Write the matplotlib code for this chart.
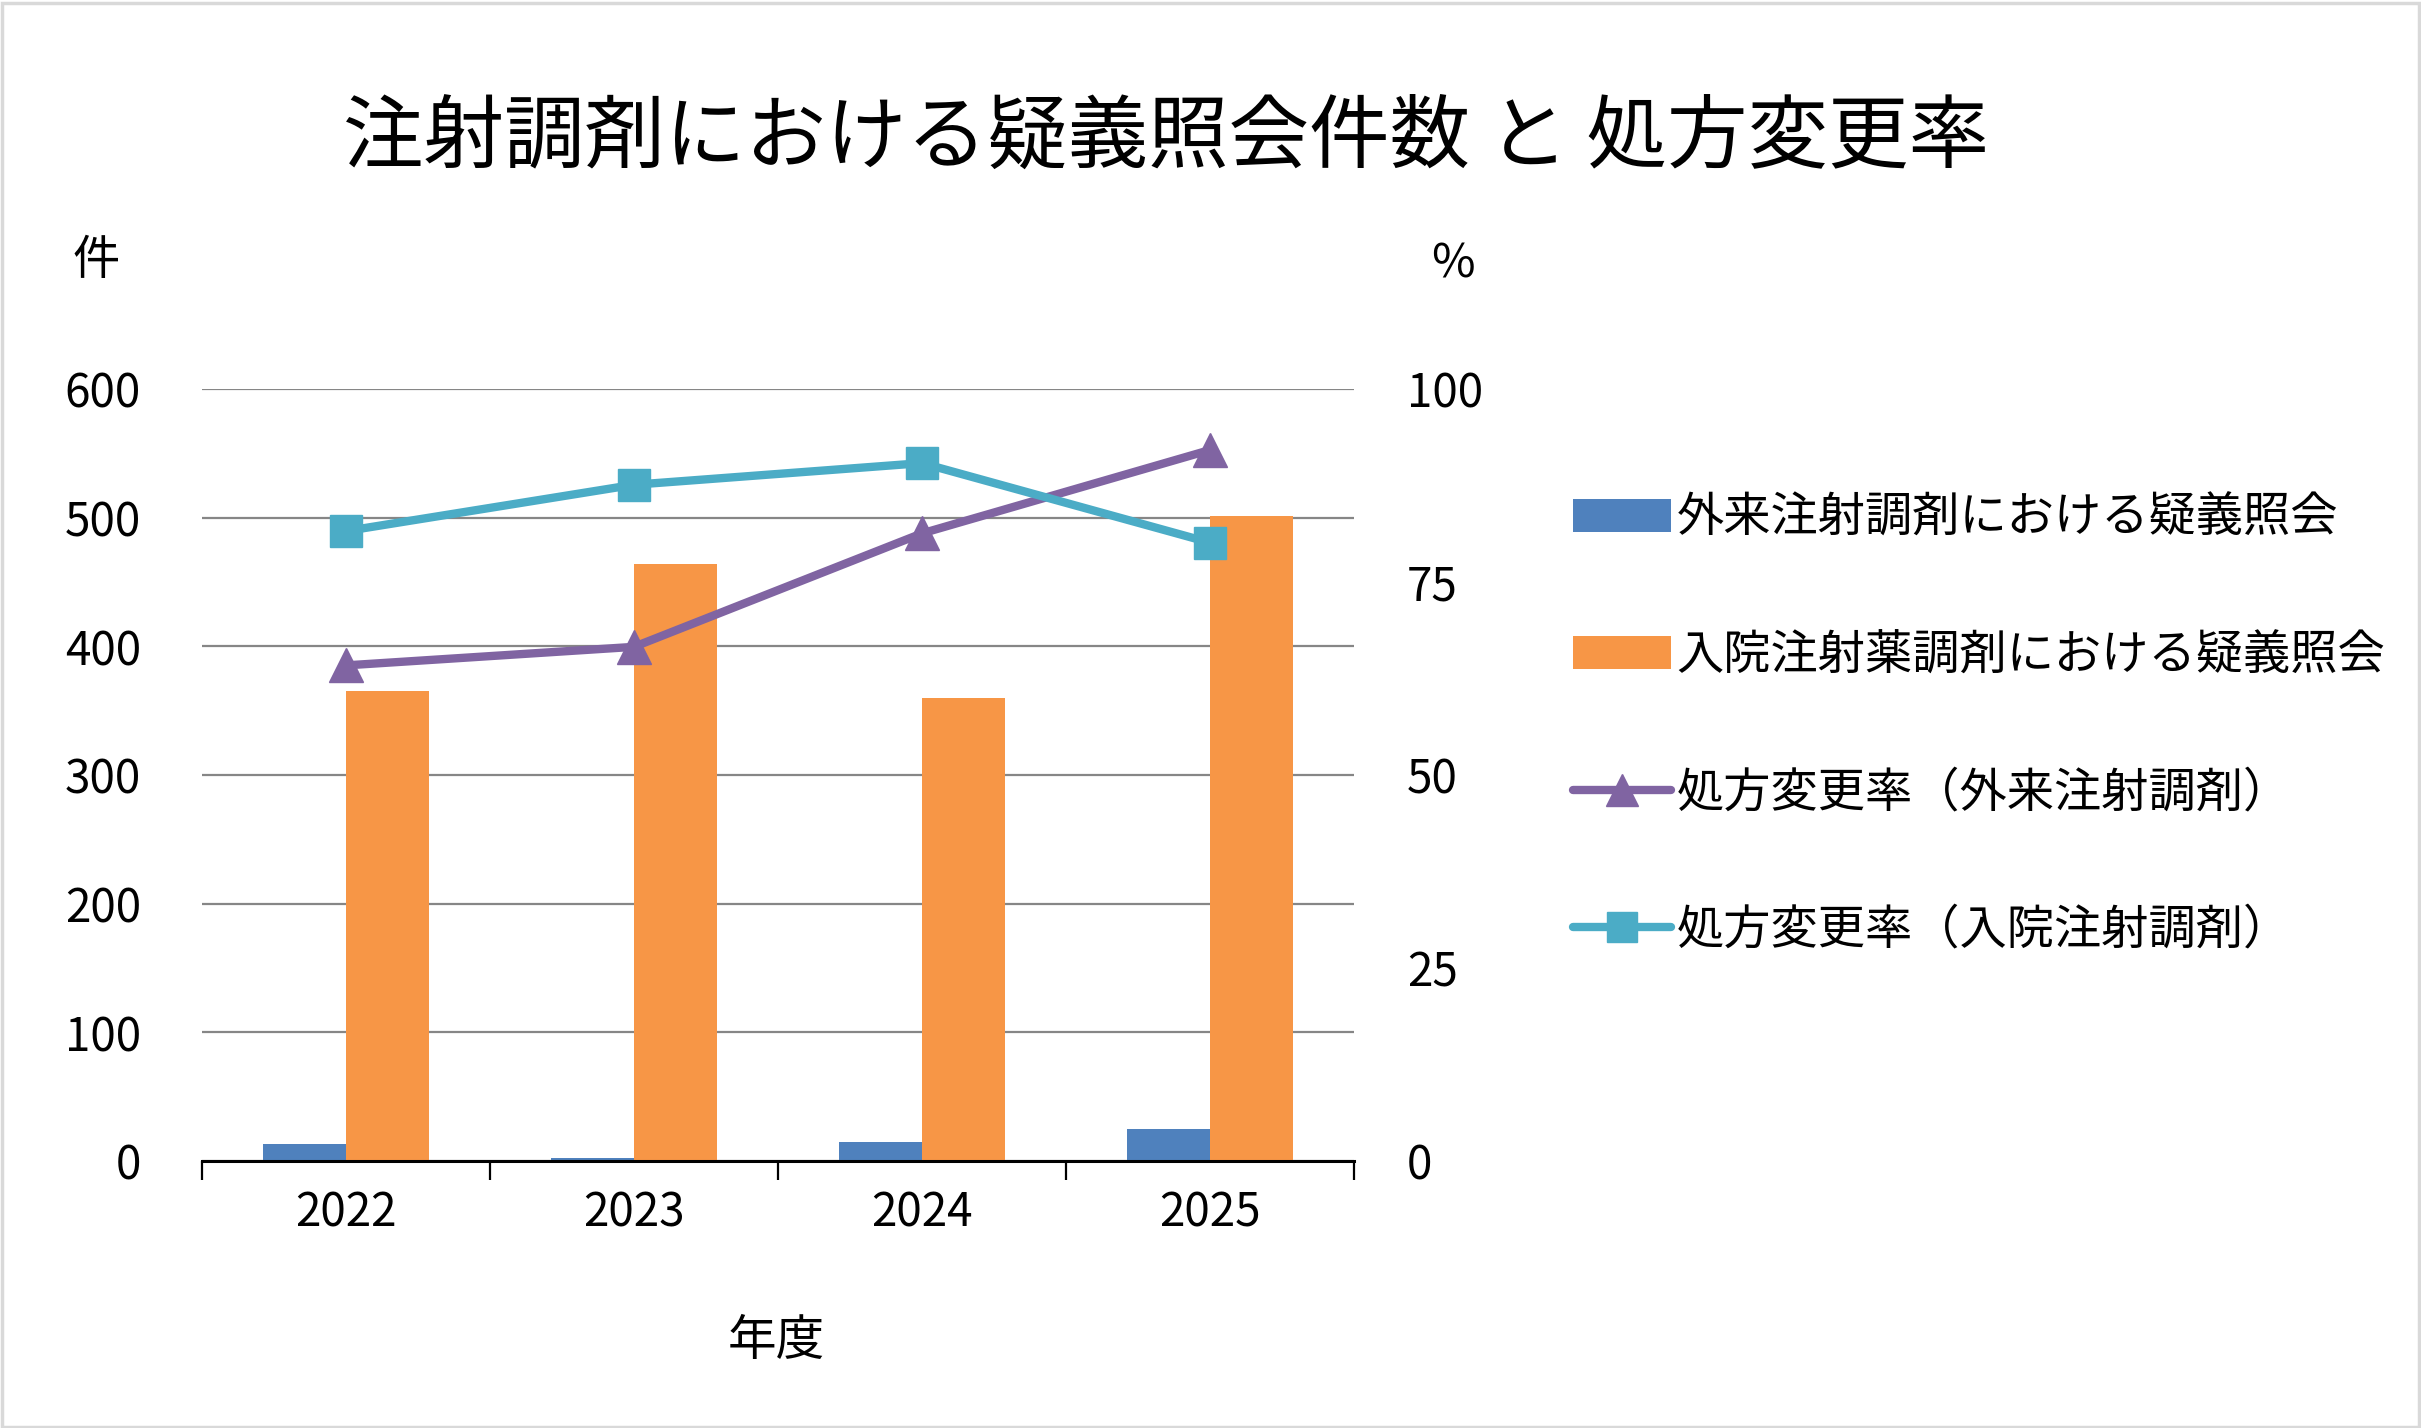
import matplotlib.pyplot as plt
from matplotlib.patches import Rectangle

plt.rcParams['font.family'] = ['Noto Sans CJK JP', 'DejaVu Sans']

years = ['2022', '2023', '2024', '2025']
gairai_count = [13, 2, 15, 25]
nyuin_count = [365, 464, 360, 501]
gairai_rate = [64.2, 66.6, 81.3, 92.1]
nyuin_rate = [81.6, 87.6, 90.4, 80.1]

lbl_gairai = '外来注射調剤における疑義照会'
lbl_nyuin = '入院注射薬調剤における疑義照会'
lbl_rate_g = '処方変更率（外来注射調剤）'
lbl_rate_n = '処方変更率（入院注射調剤）'

blue = '#4F81BD'
orange = '#F79646'
purple = '#8064A2'
cyan = '#4BACC6'

W, H = 2421, 1428
fig = plt.figure(figsize=(W / 100, H / 100), dpi=100)
fig.patches.append(Rectangle((0.001, 0.001), 0.998, 0.997, transform=fig.transFigure,
                             fill=False, edgecolor='#D9D9D9', linewidth=2.5))

ax = fig.add_axes([202 / W, 1 - 1161 / H, (1354 - 202) / W, (1161 - 389) / H])
x = range(len(years))
bw = 0.288
ax.bar([i - bw / 2 for i in x], gairai_count, bw, color=blue, label=lbl_gairai, zorder=3)
ax.bar([i + bw / 2 for i in x], nyuin_count, bw, color=orange, label=lbl_nyuin, zorder=3)
ax.set_ylim(0, 600)
ax.set_xlim(-0.5, 3.5)
ax.set_yticks(range(0, 601, 100))
ax.yaxis.grid(True, color='#868686', linewidth=1.6, zorder=0)
ax.tick_params(axis='y', length=0, labelsize=33, pad=44)
ax.set_xticks([-0.5, 0.5, 1.5, 2.5, 3.5])
ax.set_xticklabels([])
ax.tick_params(axis='x', which='major', length=14, width=1.6, direction='out')
ax.set_xticks(list(x), minor=True)
ax.set_xticklabels(years, minor=True)
ax.tick_params(axis='x', which='minor', length=0, labelsize=33, pad=20)
for s in ['top', 'left', 'right']:
    ax.spines[s].set_visible(False)
ax.spines['bottom'].set_linewidth(2.2)
ax.spines['bottom'].set_zorder(4)

ax2 = ax.twinx()
ax2.plot(list(x), gairai_rate, color=purple, linewidth=6, marker='^', markersize=24,
         label=lbl_rate_g, solid_capstyle='round', zorder=5)
ax2.plot(list(x), nyuin_rate, color=cyan, linewidth=6, marker='s', markersize=23,
         label=lbl_rate_n, solid_capstyle='round', zorder=5)
ax2.set_ylim(0, 100)
ax2.set_yticks(range(0, 101, 25))
ax2.tick_params(axis='y', length=0, labelsize=33, pad=38)
for s in ax2.spines.values():
    s.set_visible(False)

h1, l1 = ax.get_legend_handles_labels()
h2, l2 = ax2.get_legend_handles_labels()
fig.legend(h1 + h2, l1 + l2, loc='upper left', bbox_to_anchor=(1530 / W, 1 - 452 / H),
           frameon=False, fontsize=34, labelspacing=1.88, handlelength=2.08,
           handletextpad=0.12, numpoints=1, markerscale=0.95)

fig.text(1166 / W, 1 - 138 / H, '注射調剤における疑義照会件数 と 処方変更率',
         ha='center', va='center', fontsize=58)
fig.text(96 / W, 1 - 261 / H, '件', ha='center', va='center', fontsize=34)
fig.text(1453 / W, 1 - 264 / H, '%', ha='center', va='center', fontsize=34)
fig.text(776 / W, 1 - 1341 / H, '年度', ha='center', va='center', fontsize=35)

fig.savefig('out.png', dpi=100)
